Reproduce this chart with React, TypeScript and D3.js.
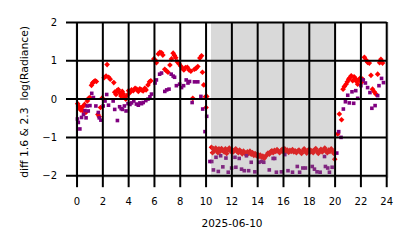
import React from "react";
import * as d3 from "d3";

const W = 414;
const H = 248;

const xTicks = [0, 2, 4, 6, 8, 10, 12, 14, 16, 18, 20, 22, 24];
const yTicks = [-2, -1, 0, 1, 2];
const xLabel = "2025-06-10";
const yLabel = "diff 1.6 & 2.3  log(Radiance)";
const shadeRange = [10.38, 20.0];

// [hour, value]
const redPoints: [number, number][] = [
  [0.05, -0.12], [0.12, -0.18], [0.2, -0.24], [0.27, -0.28], [0.35, -0.22], [0.42, -0.3],
  [0.5, -0.18], [0.58, -0.14], [0.68, -0.35], [0.8, -0.05], [0.9, 0.02], [1.0, 0.04],
  [1.12, 0.36], [1.2, 0.42], [1.3, 0.45], [1.4, 0.48], [1.5, 0.46], [1.62, -0.4],
  [1.72, -0.46], [1.82, -0.22], [1.95, 0.03], [2.1, 0.56], [2.25, 0.6], [2.33, 0.9],
  [2.45, 0.57], [2.57, 0.52], [2.85, 0.43], [2.92, 0.18], [3.02, 0.12], [3.1, 0.22],
  [3.2, 0.25], [3.3, 0.17], [3.4, 0.08], [3.5, 0.2], [3.58, 0.14], [3.68, 0.04],
  [3.78, 0.0], [3.88, 0.1], [4.0, 0.22], [4.1, 0.17], [4.22, 0.24], [4.36, 0.22],
  [4.5, 0.28], [4.62, 0.26], [4.75, 0.2], [4.87, 0.27], [5.0, 0.24], [5.12, 0.21],
  [5.25, 0.28], [5.35, 0.24], [5.5, 0.37], [5.62, 0.45], [5.72, 0.48], [5.95, 1.05],
  [6.05, 1.02], [6.15, 0.95], [6.3, 1.18], [6.42, 1.22], [6.55, 1.21], [6.65, 1.15],
  [6.8, 0.78], [6.92, 0.74], [7.05, 0.7], [7.2, 0.89], [7.32, 1.05], [7.45, 1.2],
  [7.55, 1.14], [7.65, 1.08], [7.78, 0.97], [7.9, 0.92], [8.05, 0.86], [8.18, 0.8],
  [8.28, 0.76], [8.4, 0.82], [8.55, 0.83], [8.68, 0.76], [8.82, 0.73], [8.97, 0.02],
  [9.1, 0.78], [9.22, 0.8], [9.36, 0.85], [9.52, 1.07], [9.65, 1.13], [9.72, 0.7],
  [9.82, 0.37], [9.95, 0.06], [10.05, 0.07], [10.0, -0.22],
  [10.42, -1.26], [10.5, -1.4], [10.58, -1.3], [10.66, -1.35], [10.75, -1.28], [10.84, -1.33],
  [10.92, -1.4], [11.0, -1.3], [11.1, -1.36], [11.2, -1.29], [11.3, -1.34], [11.4, -1.38],
  [11.5, -1.3], [11.6, -1.42], [11.7, -1.33], [11.8, -1.28], [11.9, -1.36], [12.0, -1.31],
  [12.1, -1.38], [12.2, -1.34], [12.3, -1.3], [12.4, -1.36], [12.5, -1.4], [12.6, -1.33],
  [12.7, -1.37], [12.8, -1.43], [12.9, -1.36], [13.0, -1.4], [13.1, -1.45], [13.2, -1.38],
  [13.3, -1.42], [13.4, -1.36], [13.5, -1.44], [13.6, -1.4], [13.7, -1.47], [13.8, -1.42],
  [13.9, -1.48], [14.0, -1.44], [14.1, -1.5], [14.2, -1.46], [14.3, -1.52], [14.4, -1.49],
  [14.5, -1.55], [14.6, -1.5], [14.7, -1.46], [14.8, -1.41], [14.9, -1.44], [15.0, -1.38],
  [15.1, -1.35], [15.2, -1.4], [15.3, -1.34], [15.4, -1.37], [15.5, -1.32], [15.6, -1.36],
  [15.7, -1.4], [15.8, -1.35], [15.9, -1.31], [16.0, -1.38], [16.1, -1.3], [16.2, -1.36],
  [16.3, -1.33], [16.4, -1.39], [16.5, -1.34], [16.6, -1.37], [16.7, -1.32], [16.8, -1.38],
  [16.9, -1.35], [17.0, -1.4], [17.1, -1.36], [17.2, -1.33], [17.3, -1.38], [17.4, -1.42],
  [17.5, -1.35], [17.6, -1.3], [17.7, -1.37], [17.8, -1.41], [17.9, -1.34], [18.0, -1.31],
  [18.1, -1.38], [18.2, -1.35], [18.3, -1.4], [18.4, -1.33], [18.5, -1.29], [18.6, -1.37],
  [18.7, -1.42], [18.8, -1.35], [18.9, -1.31], [19.0, -1.38], [19.1, -1.34], [19.2, -1.28],
  [19.3, -1.36], [19.4, -1.4], [19.5, -1.33], [19.6, -1.37], [19.7, -1.3], [19.8, -1.35],
  [19.9, -1.42], [19.97, -1.57],
  [20.2, -0.91], [20.33, -0.39], [20.5, -0.54], [20.62, 0.26], [20.72, 0.33], [20.85, 0.39],
  [20.95, 0.45], [21.05, 0.52], [21.15, 0.56], [21.25, 0.61], [21.36, 0.48], [21.47, 0.58],
  [21.57, 0.54], [21.66, 0.46], [21.75, 0.39], [21.85, 0.5], [21.93, 0.54], [22.05, 0.44],
  [22.13, 0.52], [22.27, 1.09], [22.4, 1.02], [22.52, 0.96], [22.65, 0.94], [22.78, 0.62],
  [22.9, 0.26], [23.03, 0.19], [23.16, 0.13], [23.3, 0.65], [23.45, 0.95], [23.55, 1.04],
  [23.68, 0.94],
];

const purplePoints: [number, number][] = [
  [0.03, -0.52], [0.1, -0.61], [0.22, -0.78], [0.35, -0.48], [0.5, -0.4], [0.62, -0.3],
  [0.7, -0.49], [0.78, -0.18], [0.87, -0.31], [1.0, -0.17], [1.14, 0.15], [1.27, 0.04],
  [1.46, -0.18], [1.65, -0.35], [1.72, -0.49], [1.85, -0.55], [2.03, -0.18], [2.17, -0.05],
  [2.3, 0.12], [2.44, -0.16], [2.8, -0.05], [2.92, -0.27], [3.13, -0.56], [3.3, -0.2],
  [3.42, -0.25], [3.52, -0.27], [3.67, -0.18], [3.8, -0.31], [3.95, -0.12], [4.1, -0.14],
  [4.23, -0.1], [4.4, -0.05], [4.6, -0.13], [4.75, -0.16], [4.87, -0.1], [5.0, -0.12],
  [5.13, -0.09], [5.33, -0.04], [5.5, 0.0], [5.65, 0.06], [5.77, 0.13], [6.05, 0.42],
  [6.15, 0.5], [6.4, 0.65], [6.55, 0.68], [6.8, 0.2], [6.95, 0.24], [7.13, 0.26],
  [7.3, 0.65], [7.45, 0.6], [7.56, 0.57], [7.7, 0.35], [7.95, 0.39], [8.1, 0.3],
  [8.26, 0.35], [8.46, 0.5], [8.6, 0.42], [8.72, 0.46], [8.92, -0.09], [9.1, 0.45],
  [9.36, 0.45], [9.6, 0.07], [9.74, -0.26], [9.92, -0.85], [10.05, -0.45],
  [10.3, -1.63], [10.44, -1.63], [10.57, -1.85], [10.77, -1.52], [10.95, -1.89], [11.13, -1.48],
  [11.3, -1.77], [11.54, -1.54], [11.72, -1.91], [11.98, -1.8], [12.24, -1.52], [12.31, -1.78],
  [12.57, -1.55], [12.75, -1.83], [12.96, -1.87], [13.13, -1.48], [13.3, -1.87], [13.5, -1.65],
  [13.78, -1.9], [14.1, -1.65], [14.3, -1.63], [14.47, -1.65], [14.9, -1.85], [15.2, -1.55],
  [15.32, -1.55], [15.45, -1.91], [15.84, -1.9], [16.1, -1.45], [16.35, -1.87], [16.7, -1.91],
  [17.07, -1.76], [17.25, -1.91], [17.5, -1.8], [17.7, -1.8], [18.23, -1.76], [18.4, -1.83],
  [18.6, -1.9], [18.84, -1.91], [19.18, -1.5], [19.25, -1.76], [19.43, -1.8], [19.56, -1.91],
  [19.77, -1.78],
  [20.13, -1.41], [20.28, -0.85], [20.46, -1.0], [20.64, -0.26], [20.8, -0.07], [20.98, 0.1],
  [21.1, -0.1], [21.31, 0.19], [21.44, -0.11], [21.6, 0.22], [21.75, 0.02], [22.0, 0.35],
  [22.18, 0.5], [22.35, 0.42], [22.52, 0.3], [22.7, 0.17], [22.85, -0.24], [23.1, -0.17],
  [23.3, 0.09], [23.4, 0.35], [23.6, 0.54], [23.75, 0.43],
];

const FONT = "DejaVu Sans, sans-serif";

export default function App() {
  const x = d3.scaleLinear().domain([-0.08, 24.1]).range([76, 388]);
  const y = d3.scaleLinear().domain([-2.04, 2]).range([177.2, 22.5]);
  const [x0, x1] = x.range();
  const yTop = y(2);
  const yBot = 177.2;
  const tickLen = 10;

  const diamond = d3.symbol().type(d3.symbolSquare).size(16)()!;
  const square = d3.symbol().type(d3.symbolSquare).size(13)()!;

  return (
    <svg
      width={W}
      height={H}
      style={{ position: "absolute", left: 0, top: 0, background: "#fff" }}
      fontFamily={FONT}
    >
      <rect x={0} y={0} width={W} height={H} fill="#fff" />
      <rect x={x0} y={yTop} width={x1 - x0} height={yBot - yTop} fill="none" stroke="#d0d0d0" strokeWidth={1} />
      <g>
        {redPoints.map(([h, v], i) => (
          <path key={"r" + i} d={diamond} fill="#ff0000" transform={`translate(${x(h)},${y(v)}) rotate(45)`} />
        ))}
      </g>
      <g>
        {purplePoints.map(([h, v], i) => (
          <path key={"p" + i} d={square} fill="#800080" transform={`translate(${x(h)},${y(v)})`} />
        ))}
      </g>
      <rect
        x={x(shadeRange[0])}
        y={yTop}
        width={x(shadeRange[1]) - x(shadeRange[0])}
        height={yBot - yTop}
        fill="#808080"
        fillOpacity={0.3}
      />
      <g stroke="#000" strokeWidth={2}>
        {yTicks.map((t) => (
          <line key={"gy" + t} x1={x0 - tickLen} x2={x(24)} y1={y(t)} y2={y(t)} />
        ))}
        {xTicks.map((t) => (
          <line key={"gx" + t} x1={x(t)} x2={x(t)} y1={yTop - 0.5} y2={yBot + tickLen} />
        ))}
      </g>
      <g fontSize={10} fill="#000">
        {yTicks.map((t) => (
          <text key={"ly" + t} x={57} y={y(t)} textAnchor="end" dominantBaseline="central">
            {t < 0 ? "\u2212" + Math.abs(t) : String(t)}
          </text>
        ))}
        {xTicks.map((t) => (
          <text key={"lx" + t} x={x(t)} y={205} textAnchor="middle">
            {String(t)}
          </text>
        ))}
      </g>
      <text x={(x0 + x1) / 2} y={226.5} textAnchor="middle" fontSize={10.5} fill="#000">
        {xLabel}
      </text>
      <text
        transform={`translate(28,${(yTop + yBot) / 2 + 2}) rotate(-90)`}
        textAnchor="middle"
        fontSize={10.8}
        fill="#000"
        style={{ whiteSpace: "pre" }}
      >
        {yLabel}
      </text>
    </svg>
  );
}
